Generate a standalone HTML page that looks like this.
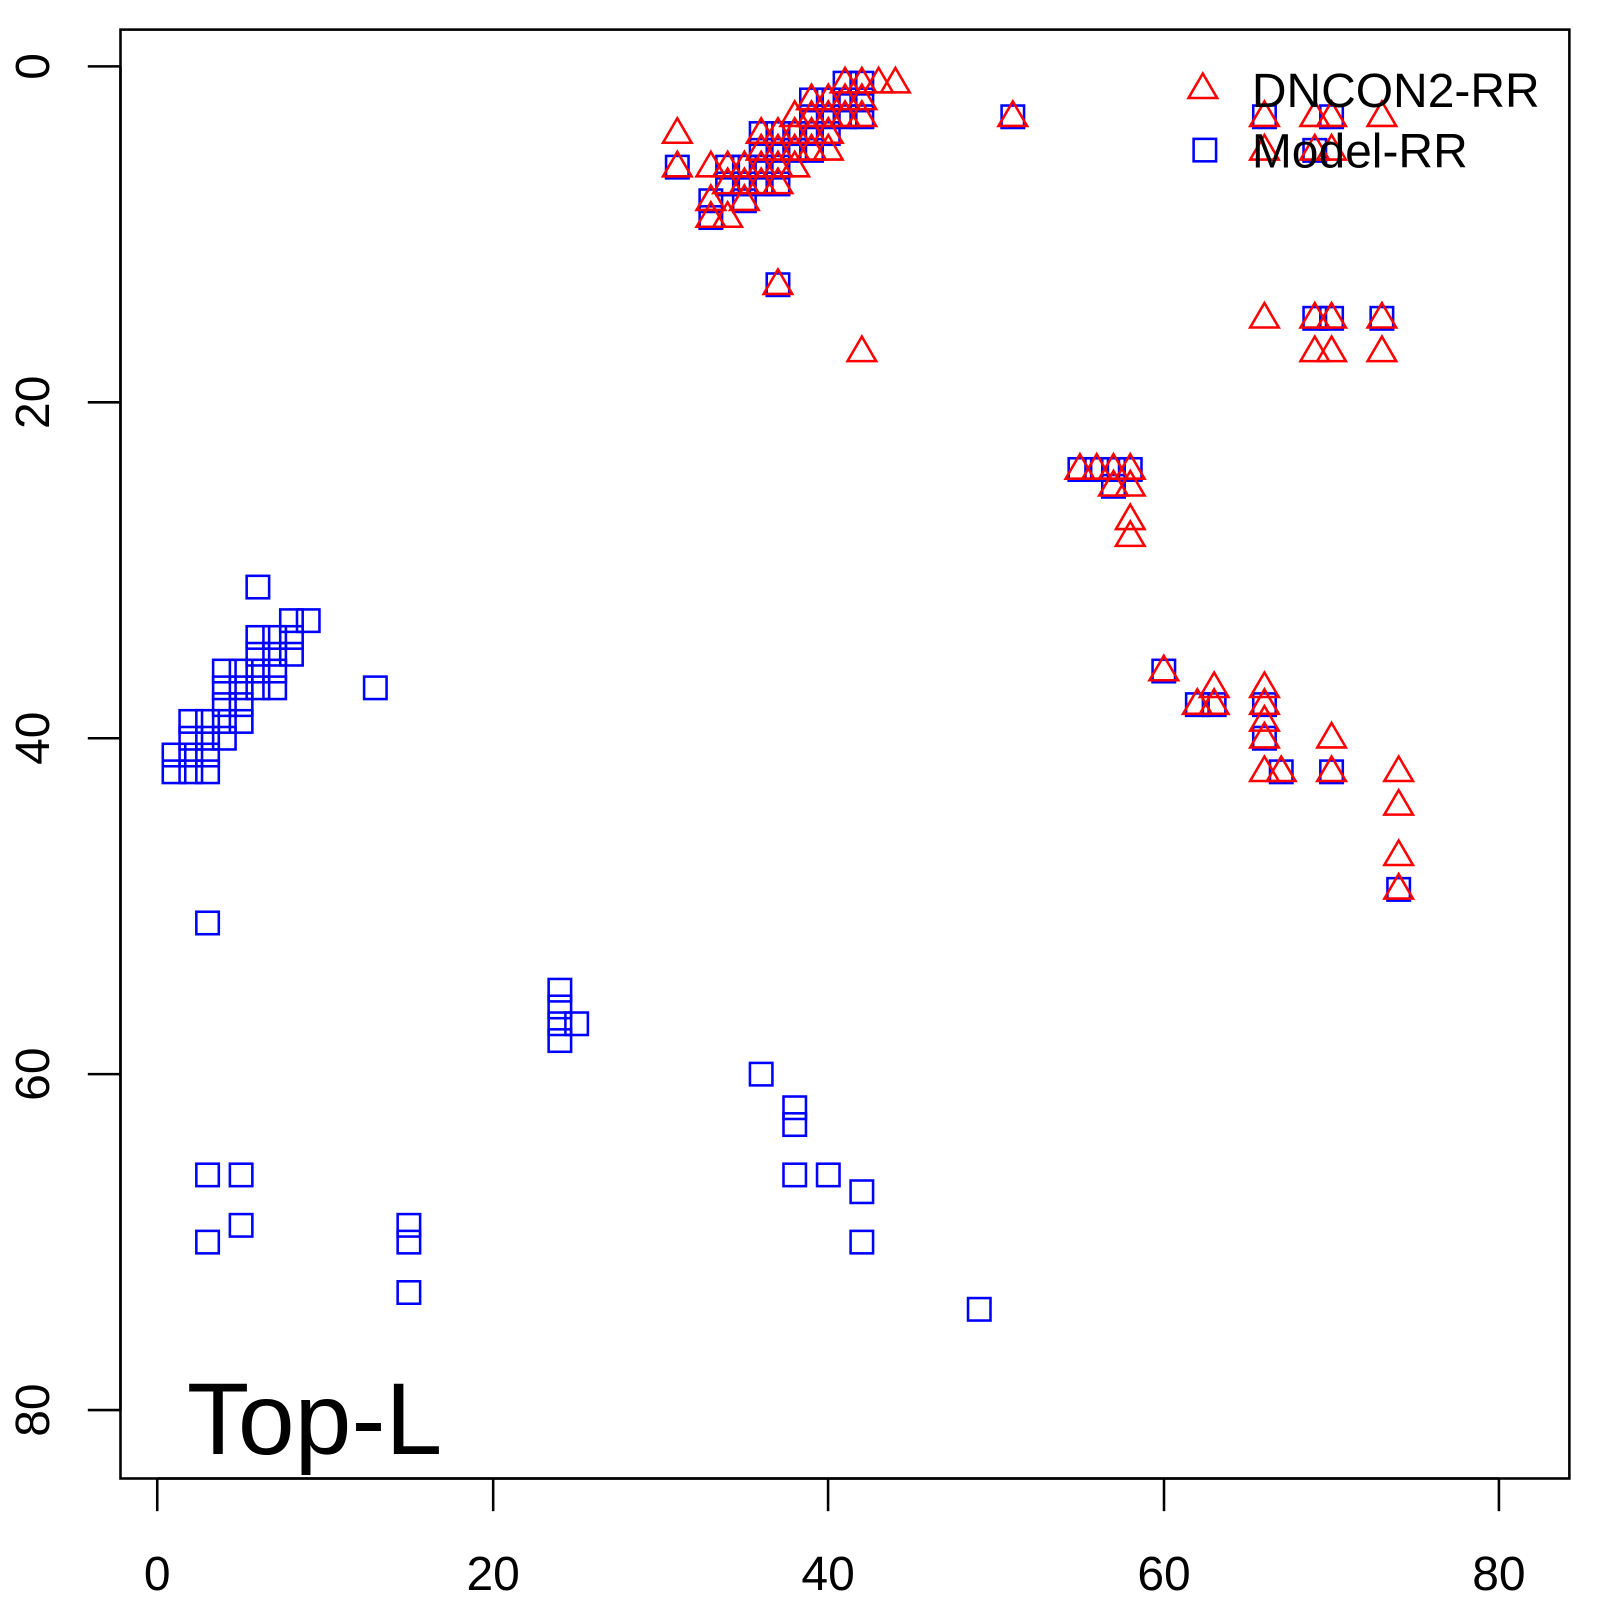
<!DOCTYPE html>
<html><head><meta charset="utf-8"><style>html,body{margin:0;padding:0;background:#fff}svg{display:block}</style></head>
<body>
<svg id="s" width="1600" height="1600" viewBox="0 0 1567 1567" xmlns="http://www.w3.org/2000/svg" font-family="Liberation Sans, Arial, sans-serif">
<rect x="0" y="0" width="1567" height="1567" fill="#fff"/>
<rect x="118" y="29" width="1419" height="1419" fill="none" stroke="#000" stroke-width="2.5"/>
<g stroke="#000" stroke-width="2.5">
<line x1="154" y1="1448" x2="154" y2="1480"/><line x1="483" y1="1448" x2="483" y2="1480"/><line x1="811" y1="1448" x2="811" y2="1480"/><line x1="1140" y1="1448" x2="1140" y2="1480"/><line x1="1468" y1="1448" x2="1468" y2="1480"/>
<line x1="154" y1="1448" x2="1468" y2="1448"/>
<line x1="86" y1="65" x2="118" y2="65"/><line x1="86" y1="394" x2="118" y2="394"/><line x1="86" y1="723" x2="118" y2="723"/><line x1="86" y1="1052" x2="118" y2="1052"/><line x1="86" y1="1381" x2="118" y2="1381"/>
<line x1="118" y1="65" x2="118" y2="1381"/>
</g>
<g font-size="47" text-anchor="middle" fill="#000">
<text x="154" y="1557">0</text><text x="483" y="1557">20</text><text x="811" y="1557">40</text><text x="1140" y="1557">60</text><text x="1468" y="1557">80</text>
<text transform="translate(48,65) rotate(-90)">0</text>
<text transform="translate(48,394) rotate(-90)">20</text>
<text transform="translate(48,723) rotate(-90)">40</text>
<text transform="translate(48,1052) rotate(-90)">60</text>
<text transform="translate(48,1381) rotate(-90)">80</text>
</g>
<g id="pts"></g>
<text x="183" y="1424" font-size="100" fill="#000">Top-L</text>
<polygon points="1178,72 1164,96 1192,96" fill="none" stroke="#f00" stroke-width="2.5"/>
<rect x="1169" y="136" width="22" height="22" fill="none" stroke="#00f" stroke-width="2.5"/>
<text x="1226" y="105" font-size="47" fill="#000">DNCON2-RR</text>
<text x="1226" y="164" font-size="47" fill="#000">Model-RR</text>
</svg>
<script>
var B=[[6,31],[8,33],[9,33],[6,34],[7,34],[8,34],[6,35],[7,35],[8,35],[4,36],[5,36],[6,36],[7,36],[4,37],[5,37],[6,37],[7,37],[13,37],[4,38],[5,38],[3,39],[4,39],[5,39],[2,39],[2,40],[3,40],[4,40],[1,41],[2,41],[3,41],[1,42],[2,42],[3,42],
[3,51],[24,55],[24,56],[24,57],[25,57],[24,58],[36,60],[38,62],[38,63],[3,66],[5,66],[38,66],[40,66],[42,67],[5,69],[15,69],[3,70],[15,70],[42,70],[15,73],[49,74],
[31,6],[33,8],[33,9],[34,6],[34,7],[35,6],[35,7],[35,8],[36,4],[36,5],[36,6],[36,7],[37,4],[37,5],[37,6],[37,7],[38,4],[38,5],[39,2],[39,3],[39,4],[39,5],[40,2],[40,3],[40,4],[41,1],[41,2],[41,3],[42,1],[42,2],[42,3],[37,13],[51,3],[55,24],[56,24],[57,24],[57,25],[58,24],[60,36],[62,38],[63,38],[66,3],[66,38],[66,40],[67,42],[70,42],[69,15],[70,15],[73,15],[70,3],[69,5],[74,49]];
var R=[[31,4],[31,6],[33,6],[33,8],[33,9],[34,6],[34,7],[34,9],[35,6],[35,7],[35,8],[36,4],[36,5],[36,6],[36,7],[37,4],[37,5],[37,6],[37,7],[38,3],[38,4],[38,5],[38,6],[39,2],[39,3],[39,4],[39,5],[40,2],[40,3],[40,4],[40,5],[41,1],[41,2],[41,3],[42,1],[42,2],[42,3],[43,1],[44,1],[37,13],[42,17],[51,3],[55,24],[56,24],[57,24],[57,25],[58,24],[58,25],[58,27],[58,28],[60,36],[62,38],[63,37],[63,38],[66,3],[66,5],[66,15],[66,37],[66,38],[66,39],[66,40],[66,42],[67,42],[69,3],[69,5],[69,15],[69,17],[70,3],[70,5],[70,15],[70,17],[70,40],[70,42],[73,3],[73,15],[73,17],[74,42],[74,44],[74,47],[74,49]];
var h='';
function X(u){return 154+16.43*u}function Y(v){return 65+16.45*v}
B.forEach(function(p){h+='<rect x="'+(X(p[0])-11)+'" y="'+(Y(p[1])-11)+'" width="22" height="22" fill="none" stroke="#00f" stroke-width="2.5"/>';});
R.forEach(function(p){var x=X(p[0]),y=Y(p[1]);h+='<polygon points="'+x+','+(y-15)+' '+(x-14)+','+(y+9)+' '+(x+14)+','+(y+9)+'" fill="none" stroke="#f00" stroke-width="2.5"/>';});
document.getElementById('pts').innerHTML=h;
</script>
</body></html>
